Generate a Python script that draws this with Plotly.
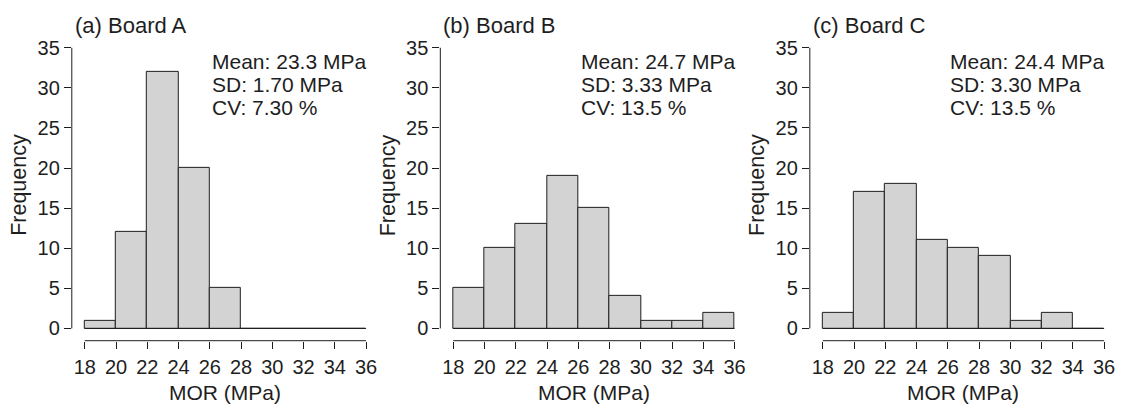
import plotly.graph_objects as go
from plotly.subplots import make_subplots

bin_edges = [18, 20, 22, 24, 26, 28, 30, 32, 34, 36]
panel_titles = ["(a) Board A", "(b) Board B", "(c) Board C"]
freq_a = [1, 12, 32, 20, 5, 0, 0, 0, 0]
freq_b = [5, 10, 13, 19, 15, 4, 1, 1, 2]
freq_c = [2, 17, 18, 11, 10, 9, 1, 2, 0]
stats_a = ["Mean: 23.3 MPa", "SD: 1.70 MPa", "CV: 7.30 %"]
stats_b = ["Mean: 24.7 MPa", "SD: 3.33 MPa", "CV: 13.5 %"]
stats_c = ["Mean: 24.4 MPa", "SD: 3.30 MPa", "CV: 13.5 %"]
x_ticks = [18, 20, 22, 24, 26, 28, 30, 32, 34, 36]
y_ticks = [0, 5, 10, 15, 20, 25, 30, 35]
x_title = "MOR (MPa)"
y_title = "Frequency"

freqs = [freq_a, freq_b, freq_c]
stats = [stats_a, stats_b, stats_c]

W, H = 1126, 410
FONT = "Liberation Sans, Arial, sans-serif"
INK = "#1e1e1e"

fig = make_subplots(rows=1, cols=3)

centers = [(a + b) / 2 for a, b in zip(bin_edges[:-1], bin_edges[1:])]
widths = [b - a for a, b in zip(bin_edges[:-1], bin_edges[1:])]

px_per_x = 15.67
px_per_y = 8.157
x18_px = [85, 454.5, 825]
left_pad_px, right_pad_px = 13, 8
bottom_px, top_px = 339.5, 37.5
y_lo = -(bottom_px - 327) / px_per_y
y_hi = 35 + 4 / px_per_y

for i in range(3):
    col = i + 1
    fig.add_trace(go.Scatter(x=[bin_edges[0], bin_edges[-1]], y=[0, 0], mode="lines",
                             line=dict(color=INK, width=1), showlegend=False,
                             hoverinfo="skip"), row=1, col=col)
    fig.add_trace(go.Bar(x=centers, y=freqs[i], width=widths,
                         marker=dict(color="#d3d3d3", line=dict(color=INK, width=1)),
                         showlegend=False), row=1, col=col)

    left = x18_px[i] - left_pad_px
    right = x18_px[i] + 18 * px_per_x + right_pad_px
    xr = [18 - left_pad_px / px_per_x, 36 + right_pad_px / px_per_x]
    xa = "xaxis" if i == 0 else f"xaxis{col}"
    ya = "yaxis" if i == 0 else f"yaxis{col}"
    fig.layout[xa].update(domain=[left / W, right / W], range=xr,
                          tickmode="array", tickvals=x_ticks,
                          ticks="outside", ticklen=7, tickcolor=INK, tickwidth=1,
                          ticklabelstandoff=1,
                          showline=False, showgrid=False, zeroline=False,
                          tickfont=dict(family=FONT, size=20, color=INK))
    fig.layout[ya].update(domain=[(H - bottom_px) / H, (H - top_px) / H],
                          range=[y_lo, y_hi],
                          tickmode="array", tickvals=y_ticks,
                          ticks="outside", ticklen=7, tickcolor=INK, tickwidth=1,
                          showline=False, showgrid=False, zeroline=False,
                          tickfont=dict(family=FONT, size=20, color=INK))
    xref = "x" if i == 0 else f"x{col}"
    yref = "y" if i == 0 else f"y{col}"
    # axis lines (R style: span only the tick range)
    fig.add_shape(type="line", xref=xref, yref=f"{yref} domain",
                  x0=x_ticks[0], x1=x_ticks[-1], y0=0, y1=0,
                  line=dict(color=INK, width=1))
    fig.add_shape(type="line", xref=f"{xref} domain", yref=yref,
                  x0=0, x1=0, y0=y_ticks[0], y1=y_ticks[-1],
                  line=dict(color=INK, width=1))
    # axis titles
    fig.add_annotation(x=(x18_px[i] + 9 * px_per_x) / W, y=(H - 392) / H,
                       xref="paper", yref="paper", text=x_title, showarrow=False,
                       xanchor="center", yanchor="middle",
                       font=dict(family=FONT, size=21, color=INK))
    fig.add_annotation(x=(x18_px[i] - 66) / W, y=(H - 181) / H,
                       xref="paper", yref="paper", text=y_title, showarrow=False,
                       textangle=-90, xanchor="center", yanchor="middle",
                       font=dict(family=FONT, size=21.5, color=INK))
    # panel title
    fig.add_annotation(x=(left + 1) / W, y=(H - 19) / H, xref="paper", yref="paper",
                       text=panel_titles[i], showarrow=False, xanchor="left",
                       yanchor="middle",
                       font=dict(family=FONT, size=22, color=INK))
    # stats text
    for j, line in enumerate(stats[i]):
        fig.add_annotation(x=(x18_px[i] + 126) / W, y=(H - (55 + 23.5 * j)) / H,
                           xref="paper", yref="paper", text=line, showarrow=False,
                           xanchor="left", yanchor="middle",
                           font=dict(family=FONT, size=21, color=INK))

fig.update_layout(width=W, height=H, margin=dict(l=0, r=0, t=0, b=0),
                  plot_bgcolor="white", paper_bgcolor="white", bargap=0)

fig.write_html("out.html")
